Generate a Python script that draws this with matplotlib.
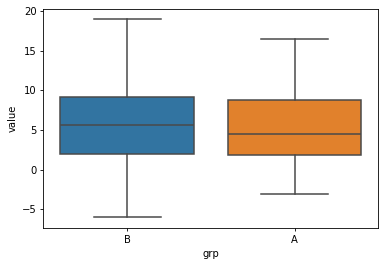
"""
Box plot of value by grp, seaborn-style look drawn with matplotlib's bxp.
"""

import matplotlib
matplotlib.use("Agg")
import matplotlib.pyplot as plt

# Summary statistics
groups = ["B", "A"]
whisker_low = [-5.96, -3.03]
q1 = [2.02, 1.81]
median = [5.64, 4.50]
q3 = [9.20, 8.83]
whisker_high = [19.0, 16.48]

BOX_COLORS = ["#3274a1", "#e1812c"]
LINE_COLOR = "#4a4a4a"
FONT_SIZE = 7.2
LW = 1.1

plt.rcParams["font.family"] = "DejaVu Sans"
plt.rcParams["font.size"] = FONT_SIZE

fig = plt.figure(figsize=(3.84, 2.65), dpi=100)
ax = fig.add_axes([0.113, 0.141, 0.872, 0.824])

stats = []
for i, g in enumerate(groups):
    stats.append({
        "label": g,
        "whislo": whisker_low[i],
        "q1": q1[i],
        "med": median[i],
        "q3": q3[i],
        "whishi": whisker_high[i],
        "fliers": [],
    })

bp = ax.bxp(
    stats,
    positions=range(len(groups)),
    widths=0.8,
    patch_artist=True,
    showfliers=False,
    boxprops={"edgecolor": LINE_COLOR, "linewidth": LW},
    medianprops={"color": LINE_COLOR, "linewidth": LW},
    whiskerprops={"color": LINE_COLOR, "linewidth": LW},
    capprops={"color": LINE_COLOR, "linewidth": LW},
    capwidths=0.4,
)
for patch, c in zip(bp["boxes"], BOX_COLORS):
    patch.set_facecolor(c)

ax.set_xlim(-0.5, len(groups) - 0.5)
ax.set_ylim(-7.31, 20.2)
ax.set_xticks(range(len(groups)))
ax.set_xticklabels(groups)
ax.set_yticks([-5, 0, 5, 10, 15, 20])
ax.tick_params(labelsize=FONT_SIZE, width=0.6, length=2.5, pad=2.5)
for s in ax.spines.values():
    s.set_linewidth(0.6)
ax.set_xlabel("grp", fontsize=FONT_SIZE, labelpad=3)
ax.set_ylabel("value", fontsize=FONT_SIZE, labelpad=3)

fig.savefig("out.png", dpi=100)
plt.close(fig)
